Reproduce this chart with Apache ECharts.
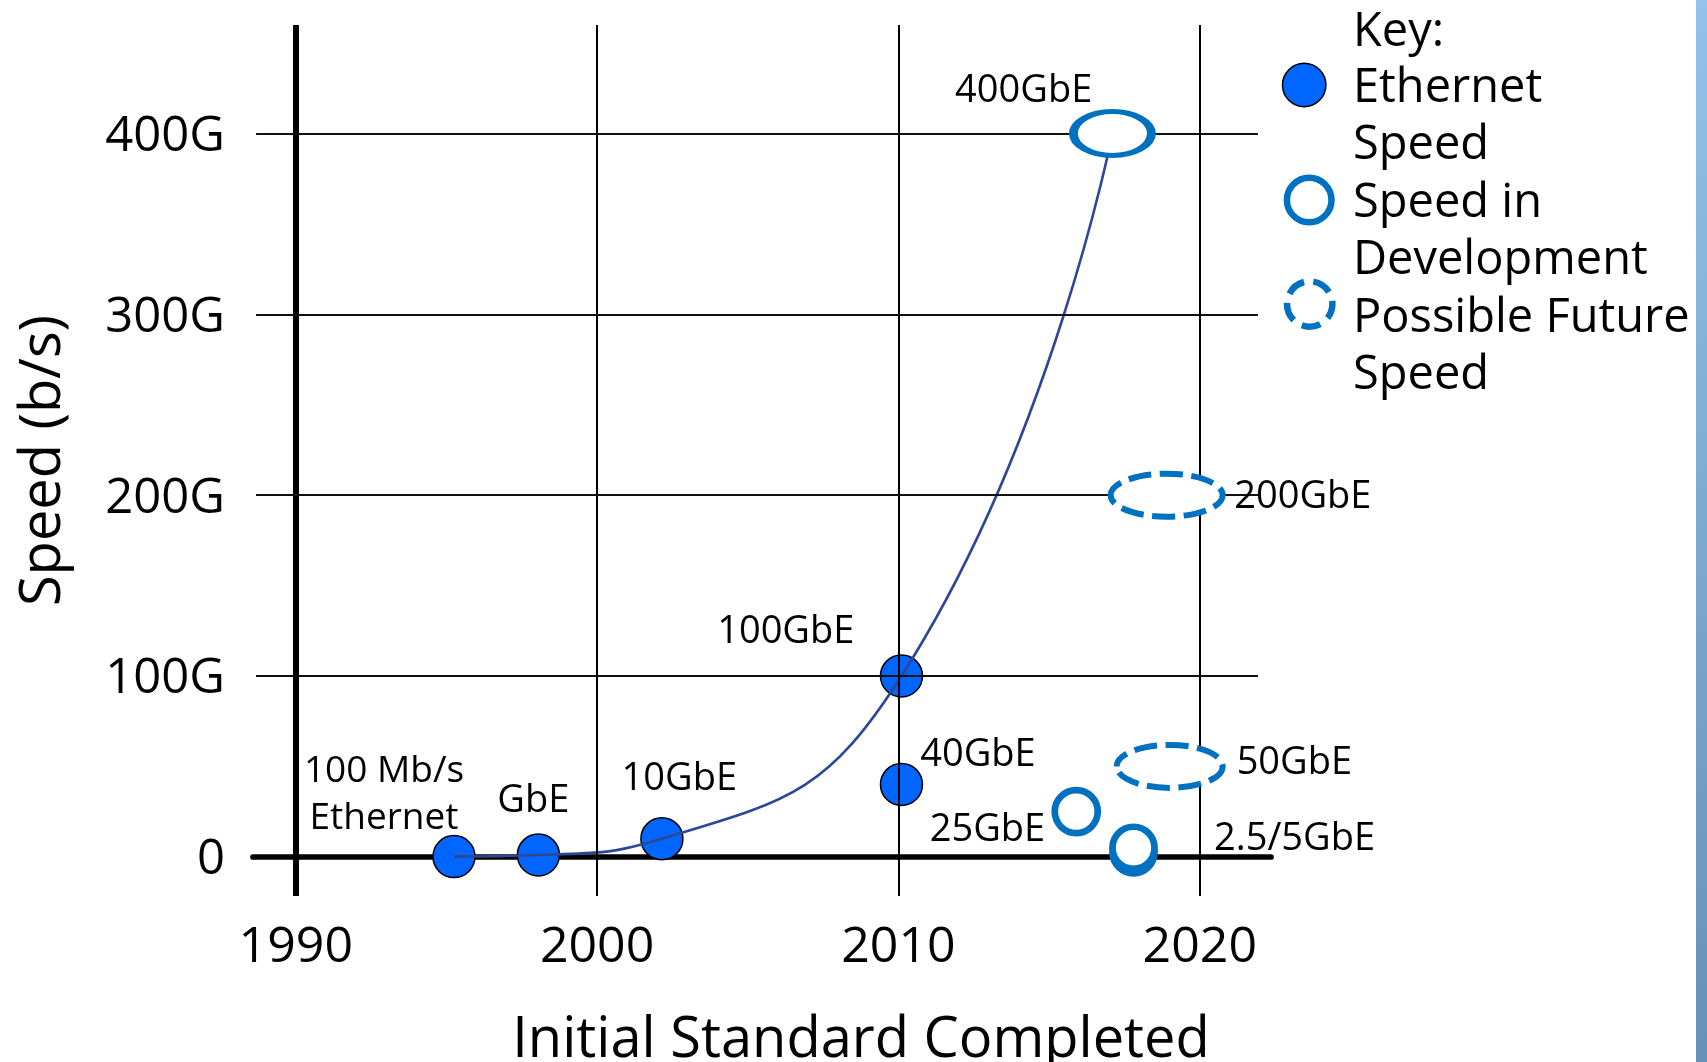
<!DOCTYPE html>
<html>
<head>
<meta charset="utf-8">
<title>Ethernet Speeds</title>
<script src="https://cdn.jsdelivr.net/npm/echarts@6/dist/echarts.min.js"></script>
<style>
  html, body { margin: 0; padding: 0; background: #fff; }
  #chart { width: 1707px; height: 1062px; }
</style>
</head>
<body>
<div id="chart"></div>
<script>
// ---- data: speed (Gb/s) by year the initial standard was completed ----
const yearTicks = [1990, 2000, 2010, 2020];
const speedTicks = [0, 100, 200, 300, 400];

// completed Ethernet speeds
const ethernetLabels = ['100 Mb/s\nEthernet', 'GbE', '10GbE', '100GbE', '40GbE'];
const ethernetYears = [1995.25, 1998.05, 2002.15, 2010.1, 2010.1];
const ethernetSpeeds = [0.1, 1, 10, 100, 40];

// speeds in development
const devLabels = ['400GbE', '25GbE', '', '2.5/5GbE'];
const devYears = [2017.1, 2015.9, 2017.8, 2017.8];
const devSpeeds = [400, 25, 2.5, 5];

// possible future speeds
const futureLabels = ['200GbE', '50GbE'];
const futureYears = [2018.9, 2019.0];
const futureSpeeds = [200, 50];

// growth curve runs through these steps
const trendLabels = ['100 Mb/s\nEthernet', 'GbE', '10GbE', '100GbE', '400GbE'];

// ---- layout & styling ----
const FONT = '"Open Sans", "DejaVu Sans", sans-serif';
const BLUE_FILL = '#0066FF';
const RING = '#0070C0';
const X_LIMITS = [1988.58, 2022.363];
const Y_LIMITS = [-21.68, 460];
const HGRID_SPAN = [1988.68, 2021.93];

const labelOffset = {
  '100 Mb/s\nEthernet': [-70, -61.5],
  'GbE': [-5, -54],
  '10GbE': [17.4, -59.2],
  '100GbE': [-115.7, -43.5],
  '40GbE': [76.5, -29.3],
  '400GbE': [-88.7, -42.5],
  '25GbE': [-88.8, 18.6],
  '2.5/5GbE': [161, -8.8],
  '200GbE': [136.2, 2.3],
  '50GbE': [124.7, -2.9]
};
const markerSize = {
  '400GbE': [78, 44],
  '25GbE': 43,
  '': 42,
  '2.5/5GbE': 42,
  '200GbE': [112, 43],
  '50GbE': [106, 43]
};

function makeItems(labels, years, speeds, withSize) {
  return labels.map((text, i) => {
    const item = {
      value: [years[i], speeds[i]],
      label: text ? {
        show: true,
        formatter: text,
        offset: labelOffset[text],
        fontSize: text.indexOf('\n') >= 0 ? 37 : 38,
        lineHeight: 47
      } : { show: false }
    };
    if (withSize) item.symbolSize = markerSize[text];
    return item;
  });
}

const allLabels = ethernetLabels.concat(devLabels);
const allYears = ethernetYears.concat(devYears);
const allSpeeds = ethernetSpeeds.concat(devSpeeds);
const trendData = trendLabels.map(t => {
  const i = allLabels.indexOf(t);
  return [allYears[i], allSpeeds[i]];
});

const baseLabel = {
  position: 'inside',
  align: 'center',
  verticalAlign: 'middle',
  color: '#000',
  fontFamily: FONT
};

const gridLines = yearTicks.map(y => ({
  xAxis: y,
  lineStyle: { type: 'solid', width: y === yearTicks[0] ? 6 : 2, color: '#000' }
})).concat(speedTicks.filter(v => v !== 0).map(v => [
  { coord: [HGRID_SPAN[0], v], lineStyle: { type: 'solid', width: 1.8, color: '#111' } },
  { coord: [HGRID_SPAN[1], v] }
]));

// dashed ellipse for a possible future speed, with its name beside it
function renderFuture(params, api) {
  const i = params.dataIndex;
  const text = futureLabels[i];
  const p = api.coord([api.value(0), api.value(1)]);
  const size = markerSize[text];
  const off = labelOffset[text];
  return {
    type: 'group',
    children: [
      {
        type: 'ellipse',
        shape: { cx: p[0], cy: p[1], rx: size[0] / 2, ry: size[1] / 2 },
        style: { fill: '#fff', stroke: RING, lineWidth: 6, lineDash: [23, 8.5], lineDashOffset: 6 }
      },
      {
        type: 'text',
        x: p[0] + off[0],
        y: p[1] + off[1],
        style: {
          text: text, fontSize: 38, fontFamily: FONT, fill: '#000',
          align: 'center', verticalAlign: 'middle'
        }
      }
    ]
  };
}

const chart = echarts.init(document.getElementById('chart'), null, { renderer: 'canvas' });

chart.setOption({
  animation: false,
  backgroundColor: '#fff',
  textStyle: { fontFamily: FONT },
  grid: {
    left: 253, right: 436, top: 25, bottom: 166,
    containLabel: false,
    outerBoundsMode: 'none'
  },
  xAxis: {
    type: 'value',
    min: X_LIMITS[0],
    max: X_LIMITS[1],
    axisLine: { show: true, onZero: true, lineStyle: { color: '#000', width: 5.7 } },
    axisTick: { show: false },
    splitLine: { show: false },
    axisLabel: {
      customValues: yearTicks,
      margin: 26.5,
      color: '#000',
      fontSize: 50,
      fontFamily: FONT,
      formatter: v => String(Math.round(v))
    }
  },
  yAxis: {
    type: 'value',
    min: Y_LIMITS[0],
    max: Y_LIMITS[1],
    axisLine: { show: false },
    axisTick: { show: false },
    splitLine: { show: false },
    axisLabel: {
      customValues: speedTicks,
      margin: 28,
      color: '#000',
      fontSize: 49,
      fontFamily: FONT,
      verticalAlign: 'top',
      lineHeight: 7,
      formatter: v => (v === 0 ? '0' : v + 'G')
    },
    name: 'Speed (b/s)',
    nameLocation: 'middle',
    nameGap: 181,
    nameMoveOverlap: false,
    nameTextStyle: { color: '#000', fontSize: 56, fontFamily: FONT }
  },
  series: [
    {
      name: 'gridlines',
      type: 'line',
      data: [],
      z: 1,
      silent: true,
      markLine: {
        silent: true,
        symbol: ['none', 'none'],
        label: { show: false },
        animation: false,
        data: gridLines
      }
    },
    {
      name: 'Ethernet Speed',
      type: 'scatter',
      z: 3,
      symbol: 'circle',
      symbolSize: 42,
      itemStyle: { color: BLUE_FILL, borderColor: '#000', borderWidth: 1.5, opacity: 1 },
      label: Object.assign({ fontSize: 38 }, baseLabel),
      data: makeItems(ethernetLabels, ethernetYears, ethernetSpeeds, false)
    },
    {
      name: 'growth',
      type: 'line',
      z: 4,
      smooth: 0.5,
      showSymbol: false,
      silent: true,
      lineStyle: { color: '#2E4696', width: 2.6 },
      data: trendData
    },
    {
      name: 'Speed in Development',
      type: 'scatter',
      z: 5,
      symbol: 'circle',
      itemStyle: { color: '#fff', borderColor: RING, borderWidth: 6.7, opacity: 1 },
      label: Object.assign({ fontSize: 38 }, baseLabel),
      data: makeItems(devLabels, devYears, devSpeeds, true)
    },
    {
      name: 'Possible Future Speed',
      type: 'custom',
      z: 5,
      silent: true,
      renderItem: renderFuture,
      encode: { x: 0, y: 1 },
      data: futureYears.map((y, i) => [y, futureSpeeds[i]])
    }
  ],
  graphic: [
    {
      type: 'rect',
      silent: true,
      shape: { x: 1696, y: 0, width: 11, height: 1062 },
      style: {
        fill: new echarts.graphic.LinearGradient(0, 0, 0, 1, [
          { offset: 0, color: '#93C3EA' },
          { offset: 1, color: '#6690B8' }
        ])
      }
    },
    {
      type: 'text',
      x: 861, y: 1041,
      style: {
        text: 'Initial Standard Completed',
        fontSize: 56, fontFamily: FONT, fill: '#000',
        align: 'center', verticalAlign: 'middle'
      }
    },
    // key
    {
      type: 'text', x: 1353, y: 32.5,
      style: { text: 'Key:', fontSize: 47, fontFamily: FONT, fill: '#000', align: 'left', verticalAlign: 'middle' }
    },
    {
      type: 'circle',
      shape: { cx: 1304.2, cy: 85, r: 21.7 },
      style: { fill: BLUE_FILL, stroke: '#000', lineWidth: 1.5 }
    },
    {
      type: 'text', x: 1353, y: 117,
      style: { text: 'Ethernet\nSpeed', fontSize: 47, lineHeight: 57.2, fontFamily: FONT, fill: '#000', align: 'left', verticalAlign: 'middle' }
    },
    {
      type: 'circle',
      shape: { cx: 1309.2, cy: 200, r: 22.3 },
      style: { fill: '#fff', stroke: RING, lineWidth: 6.5 }
    },
    {
      type: 'text', x: 1353, y: 232.5,
      style: { text: 'Speed in\nDevelopment', fontSize: 47, lineHeight: 57.2, fontFamily: FONT, fill: '#000', align: 'left', verticalAlign: 'middle' }
    },
    {
      type: 'circle',
      shape: { cx: 1309.7, cy: 304, r: 22.7 },
      style: { fill: '#fff', stroke: RING, lineWidth: 6.5, lineDash: [19, 9.5], lineDashOffset: 4 }
    },
    {
      type: 'text', x: 1353, y: 347.5,
      style: { text: 'Possible Future\nSpeed', fontSize: 47, lineHeight: 57.2, fontFamily: FONT, fill: '#000', align: 'left', verticalAlign: 'middle' }
    }
  ]
});
</script>
</body>
</html>
